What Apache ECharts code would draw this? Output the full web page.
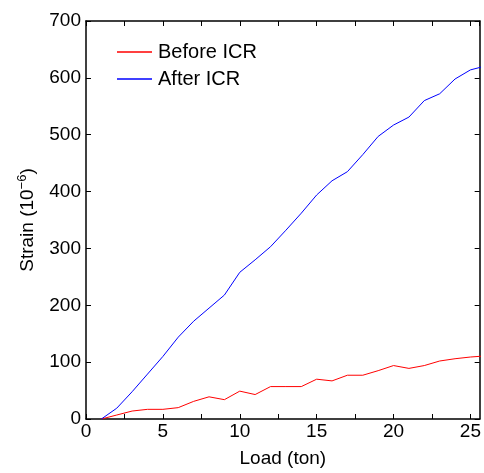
<!DOCTYPE html>
<html><head><meta charset="utf-8">
<script src="https://cdn.jsdelivr.net/npm/echarts@6/dist/echarts.min.js"></script>
<style>html,body{margin:0;padding:0;background:#fff}#c{width:484px;height:473px}</style>
</head><body><div id="c"></div>
<script>
const loads = [1,2,3,4,5,6,7,8,9,10,11,12,13,14,15,16,17,18,19,20,21,22,23,24,25,26];
const beforeICR = [0,7,14,17,17,20,31,39,34,49,43,57,57,57,70,67,77,77,85,94,89,94,102,106,109,111];
const afterICR = [0,19,48,79,110,144,172,195,218,258,280,303,332,362,394,419,435,465,497,517,531,560,572,598,614,621];
const seriesNames = ['Before ICR','After ICR'];
const F = 'Liberation Sans, Arial, Helvetica, sans-serif';

const chart = echarts.init(document.getElementById('c'));
const pairs = (ys) => loads.map((x,i)=>[x, ys[i]]);
chart.setOption({
  animation:false,
  backgroundColor:'#fff',
  grid:{left:86,top:21,right:1,bottom:48},
  legend:{
    orient:'vertical', left:112, top:37, itemWidth:35, itemHeight:1.5, itemGap:7,
    icon:'rect',
    textStyle:{fontFamily:F,fontSize:20,color:'#000',padding:[0,0,0,1]},
    data:seriesNames
  },
  xAxis:[{
    type:'value', min:0, max:25.6, interval:2.5, position:'bottom',
    name:'Load (ton)', nameLocation:'middle', nameGap:30,
    nameTextStyle:{fontFamily:F,fontSize:19,color:'#000'},
    axisLine:{onZero:false,lineStyle:{color:'#000',width:1.5}},
    axisTick:{inside:true,length:5,lineStyle:{color:'#000'}},
    axisLabel:{fontFamily:F,fontSize:19,color:'#000',margin:3,showMaxLabel:false,
      formatter:(v)=> (Math.abs(v%5)<1e-9 ? String(v) : '')},
    splitLine:{show:false}
  },{
    type:'value', min:0, max:25.6, interval:2.5, position:'top',
    axisLine:{onZero:false,lineStyle:{color:'#000',width:1.5}},
    axisTick:{inside:true,length:5,lineStyle:{color:'#000'}},
    axisLabel:{show:false}, splitLine:{show:false}
  }],
  yAxis:[{
    type:'value', min:0, max:700, interval:100, position:'left',
    name:'Strain (10{sup|−6})', nameLocation:'middle', nameGap:47,
    nameTextStyle:{fontFamily:F,fontSize:19,color:'#000',
      rich:{sup:{fontFamily:F,fontSize:13,color:'#000',verticalAlign:'bottom',padding:[0,0,10,0]}}},
    axisLine:{onZero:false,lineStyle:{color:'#000',width:1.5}},
    axisTick:{inside:true,length:5,lineStyle:{color:'#000'}},
    axisLabel:{fontFamily:F,fontSize:19,color:'#000',margin:5},
    splitLine:{show:false}
  },{
    type:'value', min:0, max:700, interval:100, position:'right',
    axisLine:{onZero:false,lineStyle:{color:'#000',width:1.5}},
    axisTick:{inside:true,length:5,lineStyle:{color:'#000'}},
    axisLabel:{show:false}, splitLine:{show:false}
  }],
  series:[
    {name:seriesNames[0],type:'line',data:pairs(beforeICR),symbol:'none',color:'#ff0000',
      lineStyle:{color:'#ff0000',width:1},clip:true},
    {name:seriesNames[1],type:'line',data:pairs(afterICR),symbol:'none',color:'#0000ff',
      lineStyle:{color:'#0000ff',width:1},clip:true}
  ]
});
</script></body></html>
